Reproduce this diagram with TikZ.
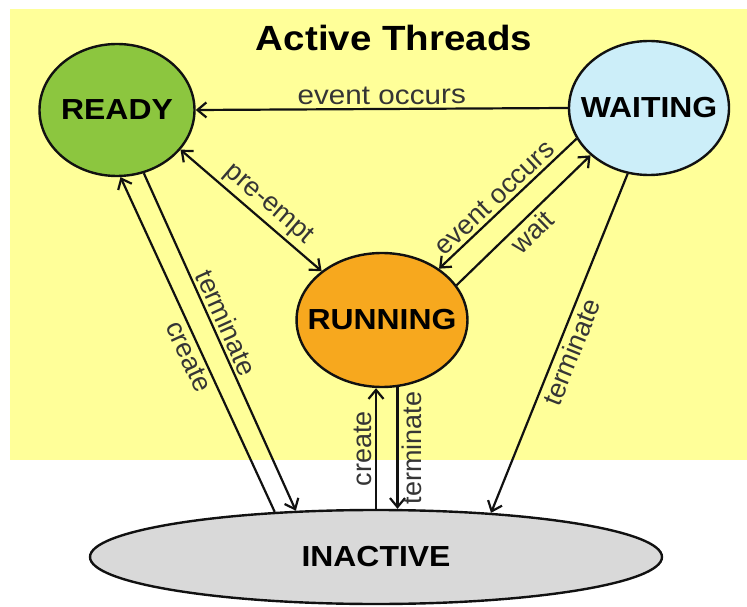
\documentclass[tikz,border=0pt]{standalone}
\usepackage{fontspec}
\setmainfont{Liberation Sans}
\newfontfamily\widefont{Liberation Sans}[FakeStretch=1.1]
\usetikzlibrary{arrows.meta,shapes.geometric}
\definecolor{StateInk}{HTML}{111111}
\definecolor{ActiveFill}{HTML}{FFFF99}
\definecolor{ReadyFill}{HTML}{8CC63F}
\definecolor{WaitFill}{HTML}{CCEEF9}
\definecolor{RunFill}{HTML}{F7A81E}
\definecolor{IdleFill}{HTML}{D9D9D9}
\tikzset{
  diagram/.style={x=1pt,y=1pt,font=\fontsize{27}{29}\selectfont,>={Straight Barb[length=9pt,width=15pt]}},
  state/.style={ellipse,draw=StateInk,line width=2.4pt,inner xsep=-14pt,inner ysep=0pt,font=\widefont\fontsize{29}{31}\selectfont\bfseries},
  trans/.style={->,line width=2.2pt,draw=StateInk},
  lbl/.style={sloped,font=\fontsize{27}{29}\selectfont,text=StateInk!85},
}

\begin{document}
\begin{tikzpicture}[diagram]
  \useasboundingbox (0,0) rectangle (747,606);
  \fill[ActiveFill] (10,146) rectangle (747,597);
  \node[font=\widefont\fontsize{35}{37}\selectfont\bfseries] (title) at (394,568) {Active Threads};

  \node[state,fill=ReadyFill,minimum width=155pt,minimum height=132pt] (ready) at (117,496) {READY};
  \node[state,fill=WaitFill,minimum width=160pt,minimum height=134pt] (waiting) at (649,498) {WAITING};
  \node[state,fill=RunFill,minimum width=155pt,minimum height=134pt] (running) at (382,286) {RUNNING};
  \node[state,fill=IdleFill,minimum width=572pt,minimum height=94pt] (inactive) at (376,49) {INACTIVE};

  \draw[trans] (waiting.west) -- (ready.east) node[lbl,midway,above,font=\widefont\fontsize{27}{29}\selectfont] {event occurs};
  \draw[trans,<->] (ready.-32) -- (running.141) node[lbl,pos=0.55,above] {pre-empt};
  \draw[trans] (waiting.-157) -- (running.42) node[lbl,pos=0.53,above] {event occurs};
  \draw[trans] (running.25) -- (waiting.-141) node[lbl,pos=0.49,below] {wait};

  \draw[trans] (inactive.156) -- (ready.-87) node[lbl,pos=0.48,below] {create};
  \draw[trans] (ready.-67) -- (inactive.150) node[lbl,pos=0.46,above] {terminate};
  \draw[trans] (inactive.north) -- (inactive.north |- running.south) node[lbl,midway,above] {create};
  \draw[trans,<-] (running.-77 |- inactive.north) -- (running.-77) node[lbl,midway,below] {terminate};
  \draw[trans] (waiting.-108) -- (inactive.21) node[lbl,pos=0.51,below] {terminate};
\end{tikzpicture}
\end{document}
